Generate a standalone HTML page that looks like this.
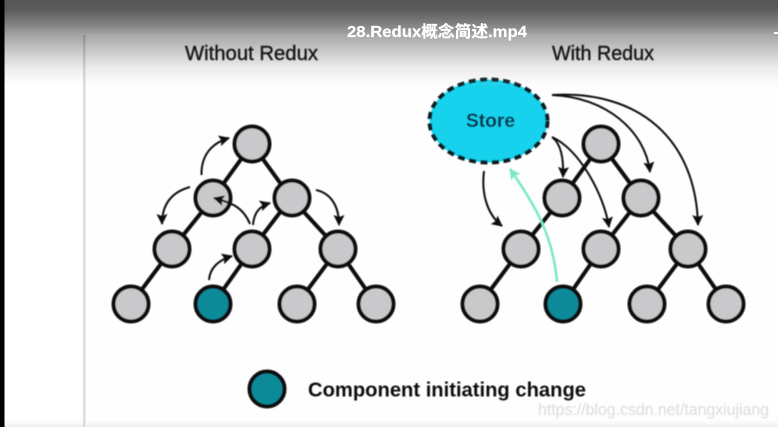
<!DOCTYPE html>
<html>
<head>
<meta charset="utf-8">
<style>
html,body{margin:0;padding:0;background:#fff;width:778px;height:427px;overflow:hidden}
svg{display:block}
text{font-family:"Liberation Sans","Noto Sans CJK SC",sans-serif}
</style>
</head>
<body>
<svg width="778" height="427" viewBox="0 0 778 427" xmlns="http://www.w3.org/2000/svg">
<defs>
<linearGradient id="top" x1="0" y1="0" x2="0" y2="1">
<stop offset="0" stop-color="#555"/>
<stop offset="0.12" stop-color="#5c5c5c"/>
<stop offset="0.3" stop-color="#858585"/>
<stop offset="0.4" stop-color="#a2a2a2"/>
<stop offset="0.6" stop-color="#c8c8c8"/>
<stop offset="0.8" stop-color="#ececec"/>
<stop offset="1" stop-color="#fff"/>
</linearGradient>
<linearGradient id="bot" x1="0" y1="0" x2="0" y2="1">
<stop offset="0" stop-color="#fff" stop-opacity="0"/>
<stop offset="1" stop-color="#ebebeb"/>
</linearGradient>
<marker id="a" markerUnits="userSpaceOnUse" markerWidth="14" markerHeight="14" refX="10" refY="6" orient="auto">
<path d="M0 0.500L11 6L0 11.500L2 6Z" fill="#111"/>
</marker>
<marker id="g" markerUnits="userSpaceOnUse" markerWidth="14" markerHeight="14" refX="10" refY="6" orient="auto">
<path d="M0 0.500L11 6L0 11.500L2 6Z" fill="#7ce8c6"/>
</marker>
<filter id="b" x="-5%" y="-5%" width="110%" height="110%"><feGaussianBlur stdDeviation="0.4"/></filter>
</defs>
<rect width="778" height="427" fill="#fff"/>
<rect x="85" y="35" width="693" height="392" fill="#fefefe"/>
<rect y="418" width="778" height="9" fill="url(#bot)"/>
<rect x="83" y="35" width="2.500" height="392" fill="#dcdcdc"/>
<g filter="url(#b)">
<text x="185" y="60" font-size="20" fill="#111" stroke="#111" stroke-width="0.4" textLength="133" lengthAdjust="spacingAndGlyphs">Without Redux</text>
<text x="552" y="60" font-size="20" fill="#111" stroke="#111" stroke-width="0.4" textLength="102" lengthAdjust="spacingAndGlyphs">With Redux</text>

<g stroke="#111" stroke-width="4" fill="none">
<path d="M252 144L213 198L172 249L131 304M252 144L291 198L252 249L213 304M291 198L338 249L297 304M338 249L376 304"/>
<path d="M601 144L562 198L521 249L480 304M601 144L641 198L601 249L563 304M641 198L688 249L647 304M688 249L726 304"/>
</g>
<g fill="#c9c9cb" stroke="#0c0c0c" stroke-width="4">
<circle cx="252" cy="144" r="17.500"/>
<circle cx="213" cy="198" r="17.500"/>
<circle cx="292" cy="198" r="17.500"/>
<circle cx="172" cy="249" r="17.500"/>
<circle cx="252" cy="249" r="17.500"/>
<circle cx="338" cy="249" r="17.500"/>
<circle cx="131" cy="304" r="17.500"/>
<circle cx="213" cy="304" r="17.500" fill="#0d8a98"/>
<circle cx="297" cy="304" r="17.500"/>
<circle cx="376" cy="304" r="17.500"/>
<circle cx="601" cy="144" r="17.500"/>
<circle cx="562" cy="198" r="17.500"/>
<circle cx="641" cy="198" r="17.500"/>
<circle cx="521" cy="249" r="17.500"/>
<circle cx="601" cy="249" r="17.500"/>
<circle cx="688" cy="249" r="17.500"/>
<circle cx="480" cy="304" r="17.500"/>
<circle cx="563" cy="304" r="17.500" fill="#0d8a98"/>
<circle cx="647" cy="304" r="17.500"/>
<circle cx="726" cy="304" r="17.500"/>
<circle cx="267" cy="389" r="17.500" fill="#0d8a98"/>
</g>

<g fill="none" stroke="#111" stroke-width="2">
<path d="M201.500 175C201 155 212 143 229 138" marker-end="url(#a)"/>
<path d="M190 187C172 192 162 204 162 224" marker-end="url(#a)"/>
<path d="M250 224C243 207 232 203 214 198" marker-end="url(#a)"/>
<path d="M253 225C254 212 260 206 270 203" marker-end="url(#a)"/>
<path d="M316 190C330 193 339 205 339 225" marker-end="url(#a)"/>
<path d="M209 280C210 267 219 260 232 256" marker-end="url(#a)"/>
<path d="M552 95C605 97 645 130 650 172" marker-end="url(#a)"/>
<path d="M552 95C640 90 696 140 698 225" marker-end="url(#a)"/>
<path d="M552 137C560 143 564 155 563 177" marker-end="url(#a)"/>
<path d="M552 137C580 150 604 195 609 227" marker-end="url(#a)"/>
<path d="M484 171C481 195 488 215 502 226" marker-end="url(#a)"/>
</g>
<path d="M557 282C553 235 535 205 510 169" fill="none" stroke="#7ce8c6" stroke-width="2.500" marker-end="url(#g)"/>

<ellipse cx="488.500" cy="121" rx="59" ry="41.500" fill="#14d2ec" stroke="#0d1a24" stroke-width="4" stroke-dasharray="7 4.500"/>
<text x="466" y="127" font-size="19" font-weight="bold" fill="#0c2f48" textLength="49" lengthAdjust="spacingAndGlyphs">Store</text>

<text x="308" y="396.500" font-size="20" font-weight="bold" fill="#111" textLength="278" lengthAdjust="spacingAndGlyphs">Component initiating change</text>
<text x="538" y="415" font-size="17" fill="#dcdcdc" textLength="231" lengthAdjust="spacingAndGlyphs">https://blog.csdn.net/tangxiujiang</text>
</g>

<rect width="778" height="85" fill="url(#top)" style="mix-blend-mode:multiply"/>
<rect x="85" y="34" width="693" height="51" fill="#fff" opacity="0.05"/>
<rect x="0" y="0" width="4.500" height="427" fill="#000"/>
<text x="347" y="37" font-size="16" font-weight="bold" fill="#fff" stroke="#fff" stroke-width="0.2" textLength="180" lengthAdjust="spacingAndGlyphs">28.Redux概念简述.mp4</text>
<rect x="774" y="32" width="4" height="2" fill="#fff"/>
</svg>
</body>
</html>
